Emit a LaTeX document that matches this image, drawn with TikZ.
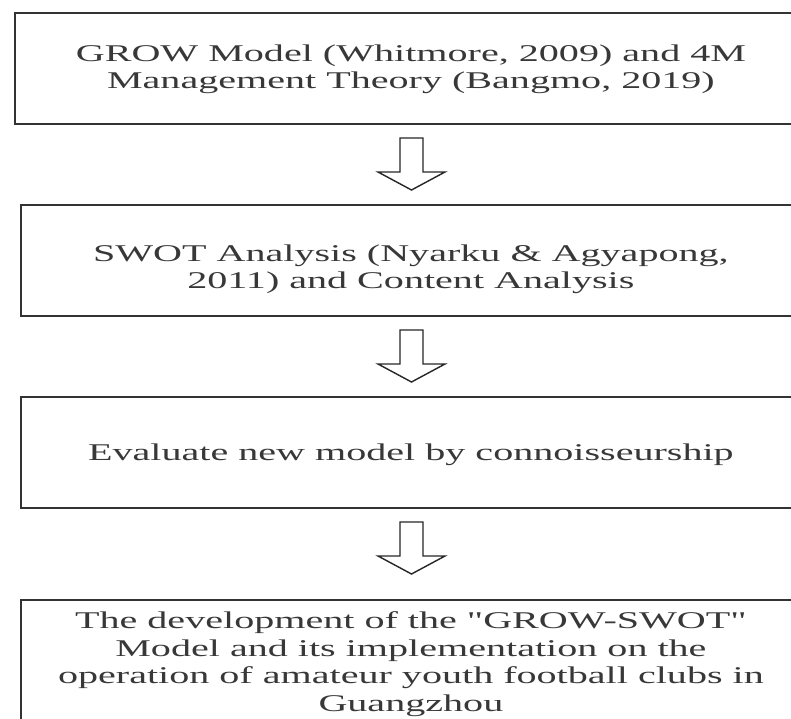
\documentclass[tikz,border=0pt]{standalone}
\usepackage{fontspec}
\setmainfont{Liberation Serif}
\newfontfamily\widefont{Liberation Serif}[FakeStretch=1.67]
\begin{document}
\begin{tikzpicture}[x=1pt,y=-1pt,
  stagebox/.style={draw=black!80, line width=1.8pt, fill=white,
    anchor=north west, inner sep=0pt},
  stagetext/.style={align=center, inner sep=0pt, text=black!78,
    font=\widefont\fontsize{24}{27.5}\selectfont},
  outline/.style={draw=black!85, line width=1.4pt, fill=white, line join=miter},
  downarrow/.pic={
    \draw[outline] (-11.5,0) -- (11.5,0) -- (11.5,34) -- (33.5,34)
      -- (0,52) -- (-33.5,34) -- (-11.5,34) -- cycle;
  }]
\useasboundingbox (0,0) rectangle (791,718);
\clip (0,0) rectangle (791,718);

% process stages
\node[stagebox, minimum width=792pt, minimum height=111pt] (b1) at (14,12) {};
\node[stagebox, minimum width=780pt, minimum height=111pt] (b2) at (20,204) {};
\node[stagebox, minimum width=780pt, minimum height=111pt] (b3) at (20,396) {};
\node[stagebox, minimum width=780pt, minimum height=128pt] (b4) at (20,599) {};

% stage captions
\node[stagetext] (t1) at ([yshift=-1pt]b1.center)
  {GROW Model (Whitmore, 2009) and 4M\\Management Theory (Bangmo, 2019)};
\node[stagetext] (t2) at ([yshift=-9pt]b2.center)
  {SWOT Analysis (Nyarku \& Agyapong,\\2011) and Content Analysis};
\node[stagetext] (t3) at ([yshift=-2pt]b3.center)
  {Evaluate new model by connoisseurship};
\node[stagetext] (t4) at (b4.center)
  {The development of the \symbol{34}GROW-SWOT\symbol{34}\\Model and its implementation on the\\operation of amateur youth football clubs in\\Guangzhou};

% hollow arrows between the stages
\coordinate (m1) at (411.5,138);
\coordinate (m2) at (411.5,330);
\coordinate (m3) at (411.5,522);
\pic at (m1) {downarrow};
\pic at (m2) {downarrow};
\pic at (m3) {downarrow};
\end{tikzpicture}
\end{document}
